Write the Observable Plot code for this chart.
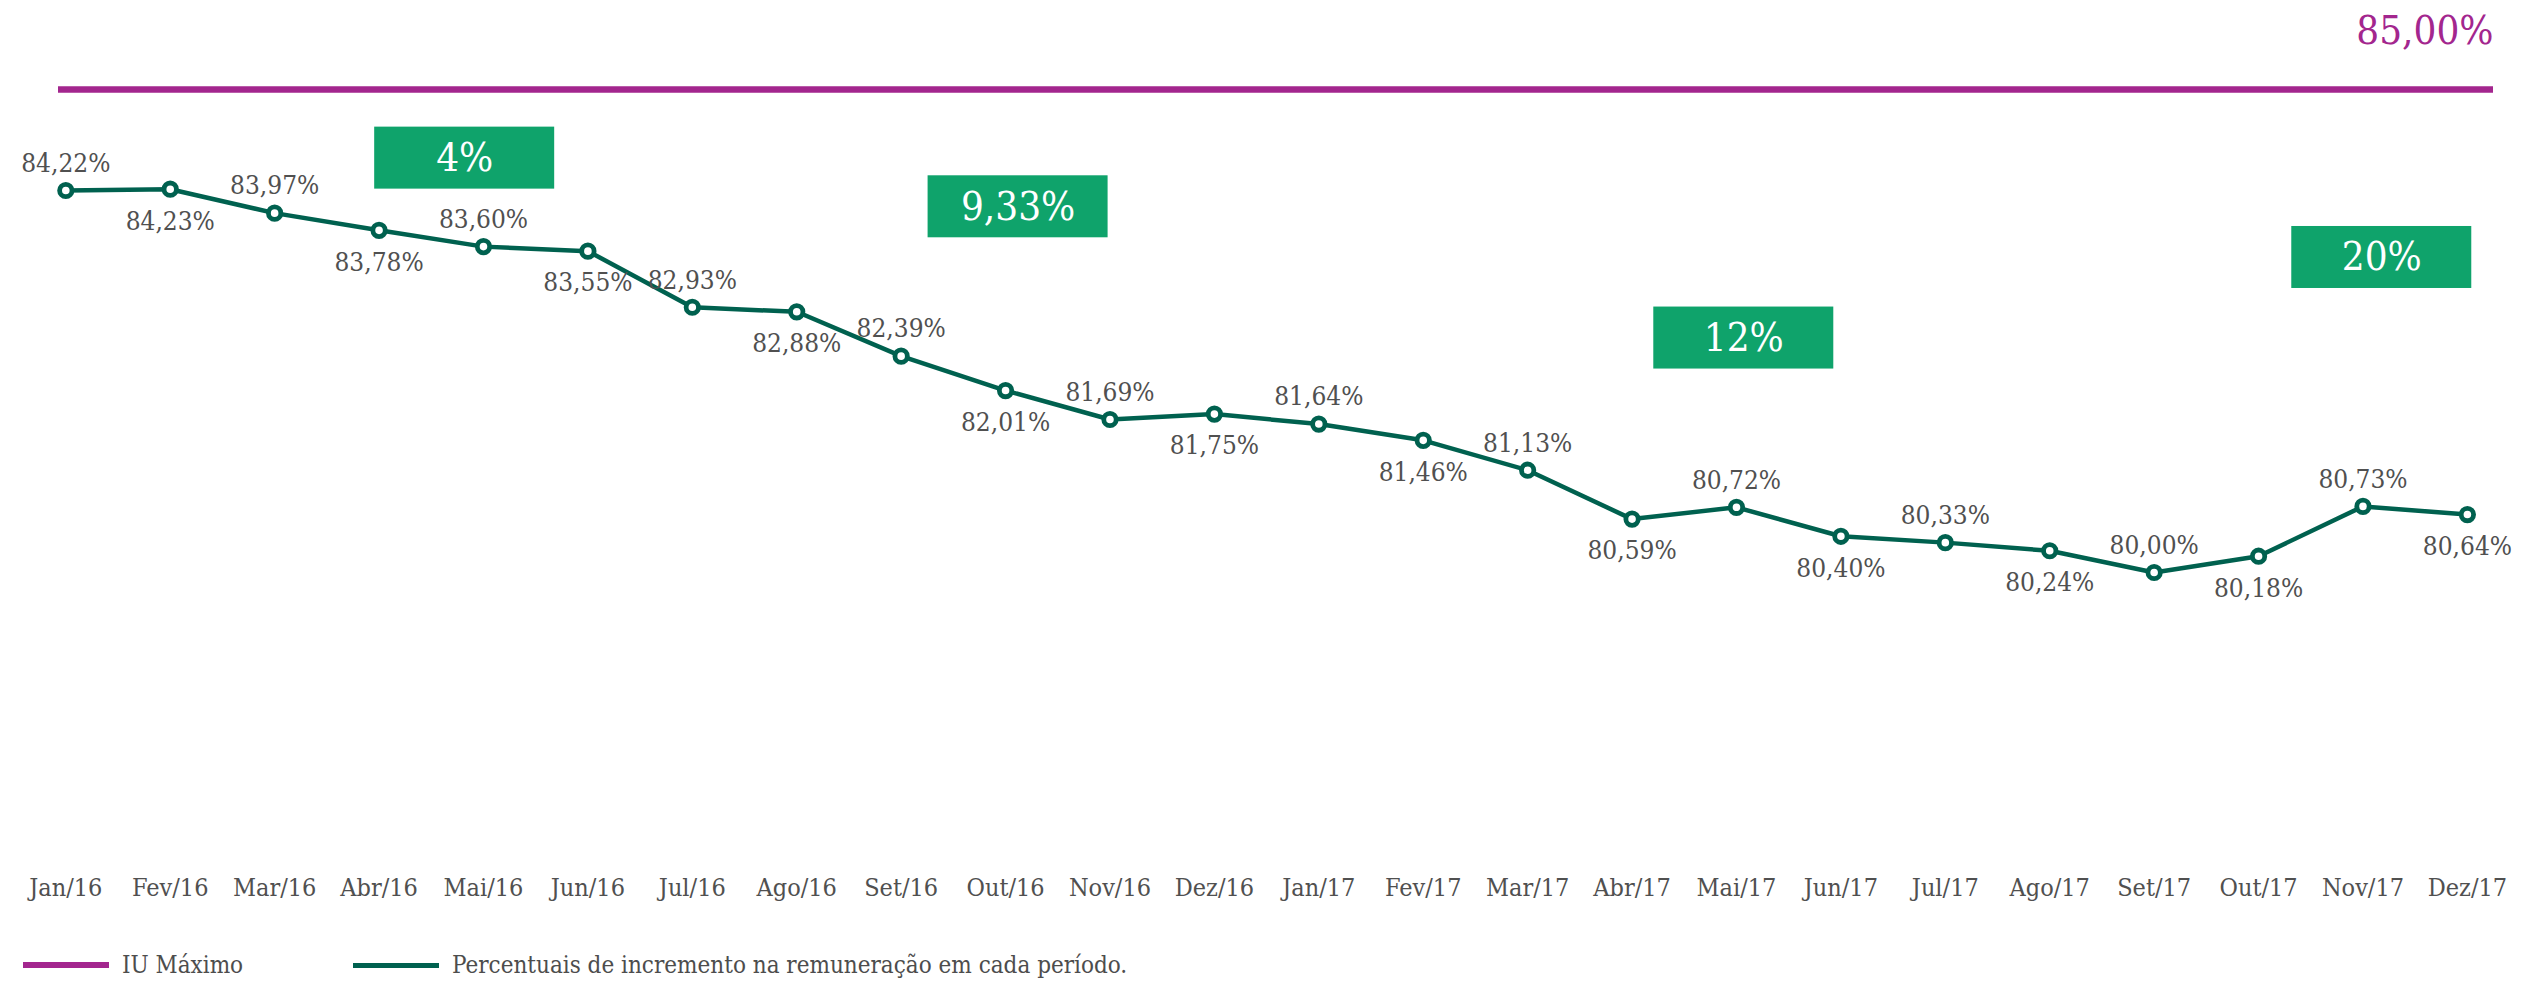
<!DOCTYPE html>
<html><head><meta charset="utf-8">
<script src="https://cdn.jsdelivr.net/npm/d3@7"></script>
<script src="https://cdn.jsdelivr.net/npm/@observablehq/plot@0.6"></script>
<style>
html,body{margin:0;padding:0;background:#fff;overflow:hidden;}
body{font-family:"DejaVu Serif Condensed","DejaVu Serif",serif;font-stretch:condensed;color:#4d4d4d;}
#legend{box-sizing:border-box;height:52px;padding-top:18px;display:flex;align-items:center;font-size:24px;}
.sw{display:inline-block;width:86px;margin-right:13px;}
</style></head><body>
<div id="chart"></div>
<div id="legend"></div>
<script>
const months = ["Jan/16","Fev/16","Mar/16","Abr/16","Mai/16","Jun/16","Jul/16","Ago/16","Set/16","Out/16","Nov/16","Dez/16",
                "Jan/17","Fev/17","Mar/17","Abr/17","Mai/17","Jun/17","Jul/17","Ago/17","Set/17","Out/17","Nov/17","Dez/17"];
const values = [84.22,84.23,83.97,83.78,83.60,83.55,82.93,82.88,82.39,82.01,81.69,81.75,
                81.64,81.46,81.13,80.59,80.72,80.40,80.33,80.24,80.00,80.18,80.73,80.64];
const maxIU = 85;
const boxLabels = ["4%","9,33%","12%","20%"];
const boxMonth = [3.82, 9.12, 16.07, 22.18];
const boxLevel = [84.47, 84.04, 82.59, 83.48];
const legendLabels = ["IU Máximo","Percentuais de incremento na remuneração em cada período."];

const purple = "#a3268e", dark = "#00614f", green = "#0fa36b", grey = "#505050";
const font = '"DejaVu Serif Condensed","DejaVu Serif",serif';
const fmt = v => v.toFixed(2).replace(".", ",") + "%";

const data = months.map((m, i) => ({i, m, v: values[i]}));
const boxes = boxLabels.map((t, k) => ({t, x: boxMonth[k], y: boxLevel[k]}));

const chart = Plot.plot({
  width: 2542, height: 930,
  marginLeft: 58, marginRight: 49, marginTop: 0, marginBottom: 70,
  x: {type: "linear", domain: [-0.07, 23.25]},
  y: {type: "linear", domain: [80, 84.22, maxIU], range: [572, 190, 89], axis: null},
  style: {fontFamily: font, fontStretch: "condensed", fontSize: "26px", color: grey, background: "white", overflow: "visible"},
  marks: [
    Plot.ruleY([maxIU], {stroke: purple, strokeWidth: 6.5}),
    Plot.text([maxIU], {y: d => d, frameAnchor: "right", textAnchor: "end", dy: -58, text: d => fmt(d), fill: purple, fontSize: 40}),
    Plot.rect(boxes, {x1: "x", x2: "x", y1: "y", y2: "y", insetLeft: -90, insetRight: -90, insetTop: -31, insetBottom: -31, fill: green}),
    Plot.text(boxes, {x: "x", y: "y", text: "t", fill: "white", fontSize: 40}),
    Plot.line(data, {x: "i", y: "v", stroke: dark, strokeWidth: 4.5}),
    Plot.dot(data, {x: "i", y: "v", r: 6.2, fill: "white", stroke: dark, strokeWidth: 4.8}),
    Plot.text(data, {filter: d => d.i % 2 === 0, x: "i", y: "v", text: d => fmt(d.v), dy: -27, fill: grey}),
    Plot.text(data, {filter: d => d.i % 2 === 1, x: "i", y: "v", text: d => fmt(d.v), dy: 32, fill: grey}),
    Plot.axisX({ticks: d3.range(months.length), tickFormat: i => months[i], tickSize: 0, tickPadding: 18, fontSize: 25, label: null, fill: grey})
  ]
});
document.getElementById("chart").appendChild(chart);

const legend = document.getElementById("legend");
const items = [{c: purple, h: 6, t: legendLabels[0]}, {c: dark, h: 5, t: legendLabels[1]}];
items.forEach((it, k) => {
  const wrap = document.createElement("span");
  wrap.style.display = "inline-flex"; wrap.style.alignItems = "center";
  wrap.style.marginLeft = (k === 0 ? 23 : 0) + "px";
  if (k === 0) wrap.style.width = "330px";
  const sw = document.createElement("span"); sw.className = "sw";
  sw.style.background = it.c; sw.style.height = it.h + "px";
  const tx = document.createElement("span"); tx.textContent = it.t;
  wrap.appendChild(sw); wrap.appendChild(tx); legend.appendChild(wrap);
});
</script>
</body></html>
